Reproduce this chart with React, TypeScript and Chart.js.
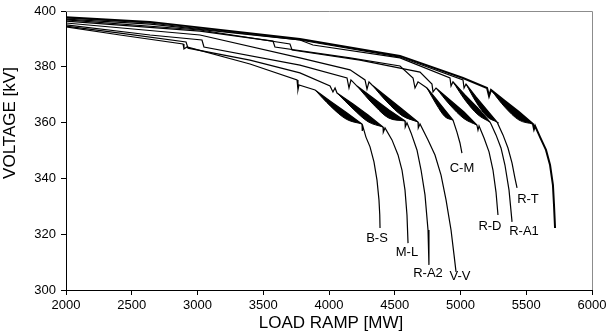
import React, { useEffect, useRef } from "react";
import { Chart, registerables } from "chart.js";

Chart.register(...registerables);

type P = [number, number];

// Axis ranges / ticks
const xMin = 2000;
const xMax = 6000;
const xStep = 500;
const yMin = 300;
const yMax = 400;
const yStep = 20;

// Curve names (last curve is unlabeled)
const curveNames = ["B-S", "M-L", "R-A2", "V-V", "C-M", "R-D", "R-A1", "R-T", ""];

// Main (upper) branch of each PV curve: [load MW, voltage kV]
const bsMain: P[] = [
  [2000, 394.3], [2411, 391.4], [2890, 388.2], [2897, 386.4], [2920, 387.1], [3399, 381.0],
  [3757, 375.3], [3764, 371.7], [3772, 373.5], [3894, 371.7], [4013, 367.6], [4132, 363.6],
  [4251, 359.5], [4253, 357.0], [4259, 358.4], [4281, 354.8], [4312, 351.3], [4342, 345.9],
  [4365, 339.4], [4380, 332.3], [4386, 327.0], [4388, 322.2],
];
const mlMain: P[] = [
  [2000, 394.6], [2411, 392.1], [2913, 388.9], [2928, 386.7], [3399, 382.4], [3779, 377.8],
  [4008, 373.1], [4030, 371.0], [4046, 372.4], [4061, 370.6], [4183, 366.7], [4297, 362.7],
  [4411, 358.4], [4413, 356.6], [4426, 358.1], [4479, 353.8], [4525, 348.4], [4555, 343.0],
  [4578, 335.8], [4593, 326.9], [4601, 316.8],
];
const ra2Main: P[] = [
  [2000, 395.0], [2639, 391.4], [3034, 389.6], [3049, 387.1], [3779, 380.6], [4137, 376.0],
  [4152, 372.4], [4167, 375.3], [4213, 373.1], [4335, 368.8], [4456, 364.5], [4578, 360.6],
  [4580, 358.4], [4593, 359.9], [4624, 356.3], [4669, 350.2], [4700, 343.0], [4730, 334.1],
  [4753, 321.5], [4760, 309.0],
];
const vvMain: P[] = [
  [2000, 395.7], [3019, 391.4], [3779, 383.2], [4160, 378.9], [4274, 375.3], [4289, 372.0],
  [4304, 374.6], [4327, 373.5], [4441, 369.2], [4555, 364.9], [4677, 360.2], [4679, 358.1],
  [4692, 359.5], [4753, 353.8], [4806, 348.4], [4852, 341.2], [4890, 332.3], [4928, 321.5],
  [4951, 312.5], [4966, 306.5],
];
const cmMain: P[] = [
  [2000, 396.4], [3019, 392.8], [3574, 389.2], [3589, 387.1], [4160, 383.2], [4540, 380.3],
  [4639, 376.0], [4654, 372.4], [4677, 374.6], [4745, 372.4], [4814, 368.5], [4882, 364.5],
  [4943, 360.9], [4973, 356.6], [4996, 352.7], [5011, 349.1],
];
const rdMain: P[] = [
  [2000, 396.8], [3019, 393.2], [3703, 388.2], [3719, 386.0], [4236, 382.4], [4692, 378.1],
  [4783, 373.8], [4791, 371.0], [4814, 372.4], [4920, 368.1], [5027, 363.8], [5125, 359.1],
  [5133, 357.3], [5141, 358.8], [5179, 354.5], [5217, 349.5], [5247, 343.0], [5270, 335.1],
  [5285, 326.9],
];
const ra1Main: P[] = [
  [2000, 397.1], [2639, 395.3], [3779, 389.6], [3878, 387.8], [4540, 383.2], [4920, 376.0],
  [4928, 373.1], [4943, 374.6], [5034, 369.9], [5133, 365.2], [5224, 360.2], [5232, 359.5],
  [5270, 355.6], [5308, 350.9], [5338, 344.8], [5369, 335.8], [5392, 324.4],
];
const rtMain: P[] = [
  [2000, 397.5], [2639, 395.7], [3779, 389.6], [4540, 383.5], [5019, 375.3], [5027, 372.4],
  [5042, 373.8], [5118, 369.2], [5202, 364.5], [5278, 360.2], [5285, 359.5], [5323, 355.6],
  [5361, 350.9], [5392, 345.5], [5414, 340.1], [5430, 336.6],
];
const lastMain: P[] = [
  [2000, 397.8], [2639, 396.1], [3779, 390.0], [4540, 383.9], [5019, 376.0], [5202, 372.4],
  [5217, 369.5], [5232, 371.7], [5338, 367.7], [5445, 363.8], [5551, 359.5], [5559, 357.7],
  [5567, 358.8], [5605, 354.8], [5650, 350.2], [5681, 344.8], [5703, 337.6], [5711, 330.5],
  [5719, 322.2],
];

// Lower branch of each oscillating band (filled up to the main branch)
const bsBand: P[] = [[3894, 371.7], [4013, 365.8], [4132, 361.2], [4251, 359.5]];
const mlBand: P[] = [[4061, 370.6], [4183, 364.9], [4297, 360.3], [4411, 358.4]];
const ra2Band: P[] = [[4213, 373.1], [4335, 366.6], [4456, 361.6], [4578, 360.6]];
const vvBand: P[] = [[4327, 373.5], [4441, 367.4], [4555, 362.5], [4677, 360.2]];
const cmBand: P[] = [[4745, 372.4], [4814, 366.7], [4882, 362.1], [4943, 360.9]];
const rdBand: P[] = [[4814, 372.4], [4920, 366.3], [5027, 361.4], [5125, 359.1]];
const ra1Band: P[] = [[4943, 374.6], [5034, 368.1], [5133, 362.8], [5224, 360.2]];
const rtBand: P[] = [[5042, 373.8], [5118, 367.4], [5202, 362.1], [5278, 360.2]];
const lastBand: P[] = [[5232, 371.7], [5338, 365.5], [5445, 360.9], [5551, 359.5]];

const curveMains = [bsMain, mlMain, ra2Main, vvMain, cmMain, rdMain, ra1Main, rtMain, lastMain];
const curveBands = [bsBand, mlBand, ra2Band, vvBand, cmBand, rdBand, ra1Band, rtBand, lastBand];

// Curve label anchors (centre of text) in data units
const labelNames = ["B-S", "M-L", "R-A2", "V-V", "C-M", "R-D", "R-A1", "R-T"];
const labelX = [4365, 4593, 4753, 4996, 5011, 5224, 5483, 5513];
const labelY = [318.6, 313.6, 306.1, 304.7, 343.7, 322.9, 321.1, 332.6];

const xTitle = "LOAD RAMP [MW]";
const yTitle = "VOLTAGE [kV]";

const FONT = "'Liberation Sans', Arial, Helvetica, sans-serif";

const toXY = (arr: P[]) => arr.map(([x, y]) => ({ x, y }));

const decorPlugin = {
  id: "decor",
  afterDatasetsDraw(chart: any) {
    const { ctx, scales } = chart;
    ctx.save();
    ctx.fillStyle = "#000";
    ctx.font = `13px ${FONT}`;
    ctx.textAlign = "center";
    ctx.textBaseline = "middle";
    labelNames.forEach((name, i) => {
      const px = scales.x.getPixelForValue(labelX[i]);
      const py = scales.y.getPixelForValue(labelY[i]);
      ctx.fillText(name, px, py);
    });
    ctx.restore();
  },
  afterDraw(chart: any) {
    const { ctx, chartArea } = chart;
    const { left, right, top, bottom } = chartArea;
    ctx.save();
    ctx.strokeStyle = "#8c8c8c";
    ctx.lineWidth = 1;
    ctx.beginPath();
    ctx.moveTo(left, top + 0.5);
    ctx.lineTo(right + 0.5, top + 0.5);
    ctx.lineTo(right + 0.5, bottom);
    ctx.stroke();
    ctx.fillStyle = "#000";
    ctx.font = `17px ${FONT}`;
    ctx.textAlign = "center";
    ctx.textBaseline = "alphabetic";
    ctx.fillText(xTitle, (left + right) / 2 + 2, 328);
    ctx.translate(15, 123);
    ctx.rotate(-Math.PI / 2);
    ctx.fillText(yTitle, 0, 0);
    ctx.restore();
  },
};

export default function App() {
  const ref = useRef<HTMLCanvasElement | null>(null);

  useEffect(() => {
    if (!ref.current) return;
    const datasets: any[] = [];
    curveMains.forEach((main, i) => {
      const heavy = i === curveMains.length - 1;
      datasets.push({
        label: curveNames[i] || "curve",
        data: toXY(main),
        borderColor: "#000",
        borderWidth: heavy ? 2 : 1.2,
        pointRadius: 0,
        tension: 0,
        fill: false,
      });
      datasets.push({
        label: (curveNames[i] || "curve") + " band",
        data: toXY(curveBands[i]),
        borderColor: "#000",
        borderWidth: 1,
        backgroundColor: "#000",
        pointRadius: 0,
        cubicInterpolationMode: "monotone",
        fill: "-1",
      });
    });

    const chart = new Chart(ref.current, {
      type: "line",
      data: { datasets },
      options: {
        animation: false,
        responsive: false,
        maintainAspectRatio: false,
        layout: { padding: { left: 0, right: 15, top: 11, bottom: 0 } },
        elements: { line: { tension: 0 }, point: { radius: 0 } },
        plugins: {
          legend: { display: false },
          tooltip: { enabled: false },
        },
        scales: {
          x: {
            type: "linear",
            min: xMin,
            max: xMax,
            ticks: {
              stepSize: xStep,
              color: "#000",
              font: { family: FONT, size: 13 },
              padding: 3,
              maxRotation: 0,
              autoSkip: false,
              callback: (v: any) => String(v),
            },
            grid: { drawOnChartArea: false, drawTicks: true, tickLength: 5, color: "#000" },
            border: { color: "#000", width: 1 },
            afterFit: (s: any) => {
              s.height = 41;
              s.paddingLeft = 0;
              s.paddingRight = 0;
            },
          },
          y: {
            type: "linear",
            min: yMin,
            max: yMax,
            ticks: {
              stepSize: yStep,
              color: "#000",
              font: { family: FONT, size: 13 },
              padding: 5,
              callback: (v: any) => String(v),
            },
            grid: { drawOnChartArea: false, drawTicks: true, tickLength: 5, color: "#000" },
            border: { color: "#000", width: 1 },
            afterFit: (s: any) => {
              s.width = 66;
              s.paddingTop = 0;
              s.paddingBottom = 0;
            },
          },
        },
      },
      plugins: [decorPlugin],
    });
    return () => chart.destroy();
  }, []);

  return (
    <div style={{ position: "fixed", left: 0, top: 0, width: 607, height: 331, background: "#fff" }}>
      <canvas ref={ref} width={607} height={331} style={{ display: "block" }} />
    </div>
  );
}
